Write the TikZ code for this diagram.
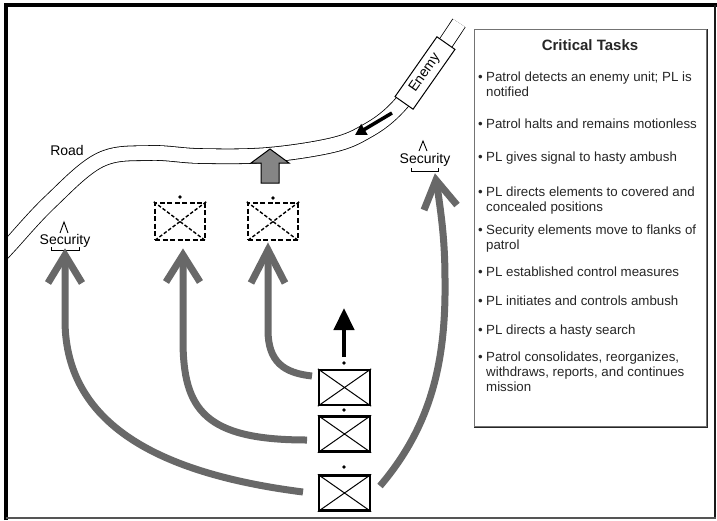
\documentclass[tikz,border=0pt]{standalone}
\usepackage{fontspec}
\setmainfont{Liberation Sans}
\usetikzlibrary{arrows.meta}
\definecolor{arrowgray}{HTML}{686868}
\definecolor{blockgray}{HTML}{858585}
\definecolor{framegray}{HTML}{555555}
\begin{document}
\begin{tikzpicture}[x=1pt,y=-1pt,
  lbl/.style={inner sep=0pt, font=\fontsize{14}{16}\selectfont},
  tline/.style={anchor=base west, inner sep=0pt, font=\fontsize{13.3}{15}\selectfont, text=black!85},
  bul/.style={anchor=base west, inner sep=0pt, font=\fontsize{13.3}{15}\selectfont, text=black!85},
  unitbox/.style={draw, line width=2.3pt, minimum width=51pt, minimum height=35pt, inner sep=0pt},
  dashbox/.style={draw, line width=2.4pt, dash pattern=on 5pt off 2.5pt, minimum width=50pt, minimum height=37pt, inner sep=0pt},
  dashdiag/.style={line width=1.4pt, dash pattern=on 3.5pt off 2pt},
  move/.style={draw=arrowgray, line width=7pt},
  vhead/.style={draw=arrowgray, line width=7pt, line join=miter, miter limit=10},
  secmark/.style={line width=0.9pt}
]
\useasboundingbox (0,0) rectangle (717,520);
\fill[white] (0,0) rectangle (717,520);

% road
\begin{scope}
\clip (8,7) rectangle (713,516);
\draw[line width=0.8pt, double=white, double distance=14pt]
  plot[smooth, tension=0.6] coordinates {(0,256) (10,245) (50,202) (100,160) (150,153) (200,156) (267,155) (333,145) (367,131) (395,110) (425,73) (459,23)};
\end{scope}
\node[lbl] (road) at (67,150) {Road};

% enemy
\node[draw, fill=white, line width=1pt, minimum width=73pt, minimum height=22pt, inner sep=0pt, rotate=55, font=\fontsize{14}{16}\selectfont] (enemy) at (425,73) {Enemy};
\coordinate (ea) at (392,113);
\coordinate (eb) at (355,135);
\draw[line width=3.5pt, -{Triangle[length=11pt,width=12pt]}] (ea) -- (eb);

% gray block arrow
\draw[fill=blockgray, line width=1pt, line join=miter] (261,183) -- (261,163) -- (251,163) -- (270,149) -- (289,163) -- (279,163) -- (279,183) -- cycle;

% dashed unit boxes
\node[dashbox] (d1) at (180,221.5) {};
\draw[dashdiag] (d1.north west) -- (d1.south east) (d1.north east) -- (d1.south west);
\fill (180,197) circle (1.9pt);
\node[dashbox] (d2) at (273,221.5) {};
\draw[dashdiag] (d2.north west) -- (d2.south east) (d2.north east) -- (d2.south west);
\fill (273,198) circle (1.9pt);

% solid unit boxes
\node[unitbox] (b1) at (344.5,387.5) {};
\draw[line width=1pt] (b1.north west) -- (b1.south east) (b1.north east) -- (b1.south west);
\fill (344,363) circle (1.9pt);
\node[unitbox] (b2) at (344.5,434) {};
\draw[line width=1pt] (b2.north west) -- (b2.south east) (b2.north east) -- (b2.south west);
\fill (344,410) circle (1.9pt);
\node[unitbox] (b3) at (344.5,493) {};
\draw[line width=1pt] (b3.north west) -- (b3.south east) (b3.north east) -- (b3.south west);
\fill (344,467) circle (1.9pt);

% black up arrow
\coordinate (ua) at (344,357);
\coordinate (ub) at (344,308);
\draw[line width=4.5pt, -{Triangle[length=22pt,width=20pt]}] (ua) -- (ub);

% security symbols
\node[lbl] (secL) at (65,241) {Security};
\draw[secmark] (60,233) -- (64,222) -- (68,233);
\draw[secmark] (51,247) -- (51,250) -- (79,250) -- (79,247);
\node[lbl] (secR) at (425,160) {Security};
\draw[secmark] (419,151) -- (423,141) -- (427,151);
\draw[secmark] (411,168) -- (411,171) -- (438,171) -- (438,168);

% gray movement arrows
\coordinate (t1) at (268,250);
\coordinate (t2) at (183,255);
\coordinate (t3) at (65,255);
\coordinate (t4) at (436,180);
\draw[move] (312,376) .. controls (284,373) and (268,362) .. (268,330) -- (268,255);
\draw[vhead] (251,283) -- (t1) -- (285,283);
\draw[move] (307,440) .. controls (205,440) and (183,410) .. (183,340) -- (183,260);
\draw[vhead] (166,282) -- (t2) -- (200,282);
\draw[move] (303,492) .. controls (170,475) and (65,430) .. (65,320) -- (65,260);
\draw[vhead] (48,283) -- (t3) -- (82,283);
\draw[move] (380,486) .. controls (432,425) and (446,360) .. (445,280) .. controls (445,235) and (440,208) .. (437,185);
\draw[vhead] (424,210) -- (t4) -- (457,205);

% critical tasks box
\draw[line width=1pt, draw=black!55] (474,29) rectangle (706,426);
\draw[line width=1.6pt, draw=black!85] (707.5,29) -- (707.5,427.5) -- (474,427.5);
\node[font=\bfseries\fontsize{15}{17}\selectfont, inner sep=0pt, text=black!85] (title) at (590,45) {Critical Tasks};

\node[bul] at (478,81) {•};
\node[tline] (l1a) at (486,81) {Patrol detects an enemy unit; PL is};
\node[tline] (l1b) at (486,96) {notified};
\node[bul] at (478,128) {•};
\node[tline] (l2) at (486,128) {Patrol halts and remains motionless};
\node[bul] at (478,161) {•};
\node[tline] (l3) at (486,161) {PL gives signal to hasty ambush};
\node[bul] at (478,196) {•};
\node[tline] (l4a) at (486,196) {PL directs elements to covered and};
\node[tline] (l4b) at (486,211) {concealed positions};
\node[bul] at (478,234) {•};
\node[tline] (l5a) at (486,234) {Security elements move to flanks of};
\node[tline] (l5b) at (486,249) {patrol};
\node[bul] at (478,276) {•};
\node[tline] (l6) at (486,276) {PL established control measures};
\node[bul] at (478,305) {•};
\node[tline] (l7) at (486,305) {PL initiates and controls ambush};
\node[bul] at (478,334) {•};
\node[tline] (l8) at (486,334) {PL directs a hasty search};
\node[bul] at (478,361) {•};
\node[tline] (l9a) at (486,361) {Patrol consolidates, reorganizes,};
\node[tline] (l9b) at (486,376) {withdraws, reports, and continues};
\node[tline] (l9c) at (486,391) {mission};

% outer frame
\draw[line width=4pt] (6,520) -- (6,5) -- (717,5);
\draw[line width=2.5pt, draw=black!90] (715,5) -- (715,518);
\draw[line width=2pt, draw=framegray] (6,518) -- (716,518);
\end{tikzpicture}
\end{document}
